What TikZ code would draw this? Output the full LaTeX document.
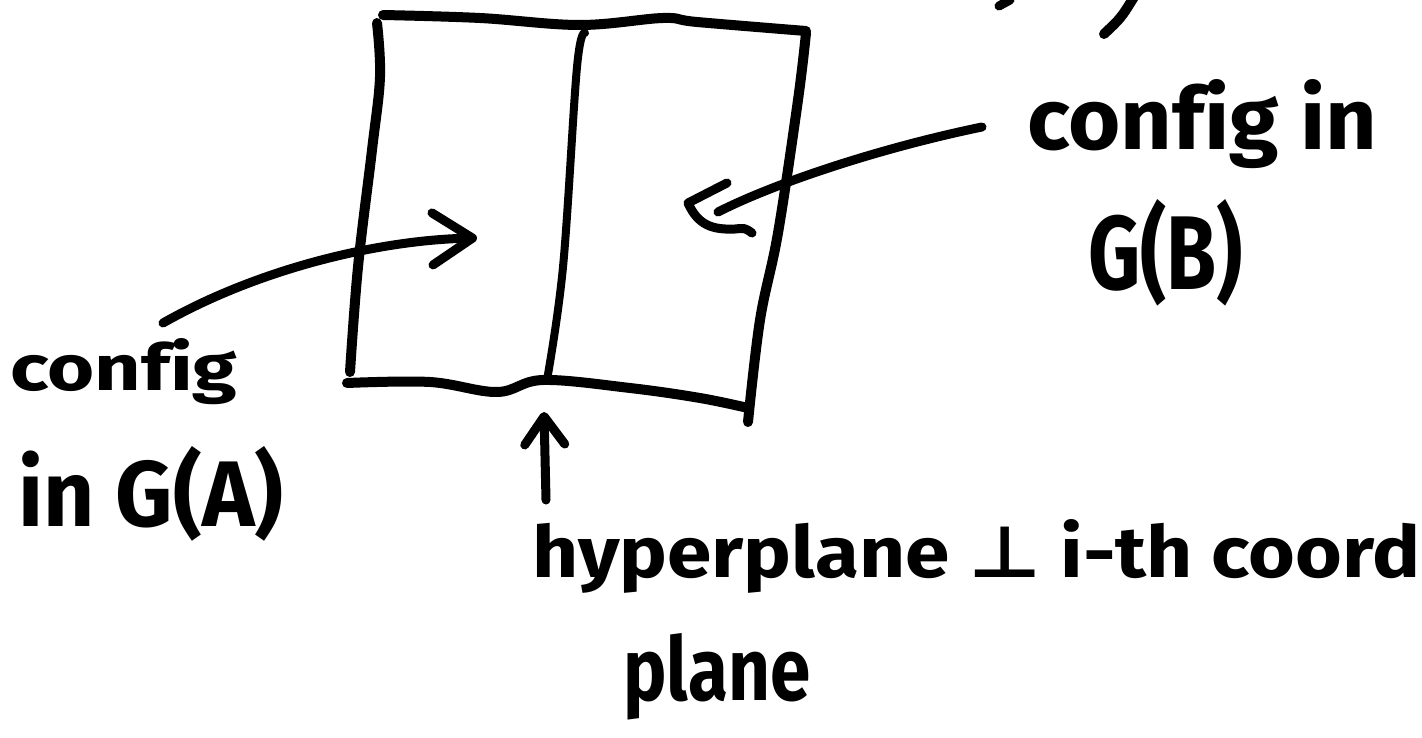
\documentclass[tikz,border=0pt]{standalone}
\usepackage{fontspec}
\usepackage{graphicx}
\setmainfont{Fira Sans}[Ligatures=NoCommon]
\newfontfamily\symfont{DejaVu Sans}
\usetikzlibrary{arrows.meta}
\begin{document}
\begin{tikzpicture}[x=1pt,y=-1pt,
  pen/.style={line width=10pt, line cap=round, line join=round},
  divider/.style={line width=8pt, line cap=round, line join=round},
  pointer/.style={line width=9pt, line cap=round, line join=round},
  lbl/.style={inner sep=0pt, anchor=base west, font=\bfseries}]
\useasboundingbox (0,0) rectangle (1422,738);

% the slab, sketched by hand
\draw[pen] plot[smooth, tension=0.6] coordinates {(383,15) (480,18) (580,25) (663,18) (697,22) (806,31)};
\draw[pen] plot[smooth, tension=0.6] coordinates {(377,23) (380,77) (372,150) (358,267) (350,372)};
\draw[pen] plot[smooth, tension=0.6] coordinates {(806,33) (798,100) (778,233) (760,320) (748,422)};
\draw[pen] plot[smooth, tension=0.6] coordinates {(347,383) (430,382) (497,392) (543,380) (630,388) (700,398) (748,408)};
% the separating hyperplane
\draw[divider] plot[smooth, tension=0.6] coordinates {(585,33) (577,67) (563,267) (547,380)};

% labels
\node[lbl] (cfgA1) at (10,390) {\resizebox{227pt}{52pt}{config}};
\node[lbl] (cfgA2) at (18,526) {\resizebox{265pt}{80pt}{in G(A)}};
\node[lbl] (cfgB1) at (1027,150) {\resizebox{350pt}{70pt}{config in}};
\node[lbl] (cfgB2) at (1088,290) {\resizebox{155pt}{90pt}{G(B)}};
\node[lbl] (hyp1) at (532,577) {\resizebox{888pt}{58pt}{hyperplane {\symfont\bfseries ⊥} i-th coord}};
\node[lbl] (hyp2) at (623,700) {\resizebox{187pt}{67pt}{plane}};

% arrow into the left part
\coordinate (tailA) at (163,323);
\coordinate (tipA) at (477,238);
\draw[pointer, -{Straight Barb[round,length=40pt,width=52pt]}]
  (tailA) .. controls (260,268) and (380,240) .. (tipA);

% arrow into the right part, with its hooked head
\coordinate (tailB) at (982,127);
\coordinate (shaftB) at (718,212);
\coordinate (tipB) at (688,203);
\draw[pointer] (tailB) .. controls (880,148) and (775,183) .. (shaftB);
\draw[pointer] (727,183) -- (tipB) .. controls (698,225) and (712,230) .. (735,229)
  .. controls (745,228) .. (752,233);

% arrow up to the hyperplane
\coordinate (tailU) at (546,500);
\coordinate (tipU) at (544,412);
\draw[pointer, -{Straight Barb[round,length=28pt,width=40pt]}] (tailU) -- (tipU);

% strokes cut off at the top edge
\draw[pointer] (1010,0) -- (999,6);
\draw[pen] (1134,-3) .. controls (1121,18) .. (1104,34);
\end{tikzpicture}
\end{document}
